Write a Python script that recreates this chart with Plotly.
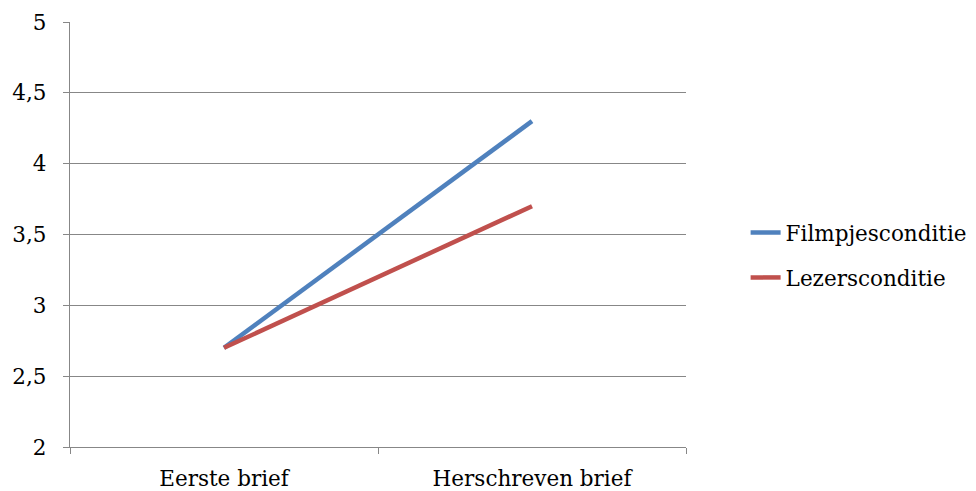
import plotly.graph_objects as go

categories = ["Eerste brief", "Herschreven brief"]
film = [2.7, 4.3]
lezer = [2.7, 3.7]
y_ticks = [2, 2.5, 3, 3.5, 4, 4.5, 5]

FONT = "'DejaVu Serif', 'Liberation Serif', serif"
GRID = "#878787"
FS = 21.5

fig = go.Figure()
fig.add_trace(go.Scatter(x=categories, y=film, mode="lines", name="Filmpjesconditie",
                         legendgroup="a",
                         line=dict(color="#4F81BD", width=4.5)))
fig.add_trace(go.Scatter(x=categories, y=lezer, mode="lines", name="Lezersconditie",
                         legendgroup="b",
                         line=dict(color="#C0504D", width=4.5)))

fig.update_layout(
    width=968, height=483,
    margin=dict(l=62, r=290, t=14, b=44),
    paper_bgcolor="white", plot_bgcolor="white",
    separators=", ",
    font=dict(family=FONT, size=FS, color="black"),
    showlegend=True,
    legend=dict(x=0.762, xanchor="left", xref="container",
                y=0.4886, yanchor="middle", yref="container",
                font=dict(family=FONT, size=FS), tracegroupgap=14,
                bgcolor="rgba(0,0,0,0)"),
    xaxis=dict(type="category", range=[-0.5, 1.5], tickson="boundaries",
               automargin=False,
               showgrid=False, showline=True, linecolor=GRID, linewidth=1.3,
               ticks="outside", ticklen=6, tickcolor=GRID, tickwidth=1.3,
               tickfont=dict(family=FONT, size=FS), ticklabelstandoff=12),
    yaxis=dict(range=[2, 5], tickvals=y_ticks, tickformat=".1~f",
               automargin=False,
               showgrid=True, gridcolor=GRID, gridwidth=1.3,
               showline=True, linecolor=GRID, linewidth=1.3,
               ticks="outside", ticklen=6, tickcolor=GRID, tickwidth=1.3,
               zeroline=False, tickfont=dict(family=FONT, size=FS),
               ticklabelstandoff=12),
)

fig.write_html("out.html")
